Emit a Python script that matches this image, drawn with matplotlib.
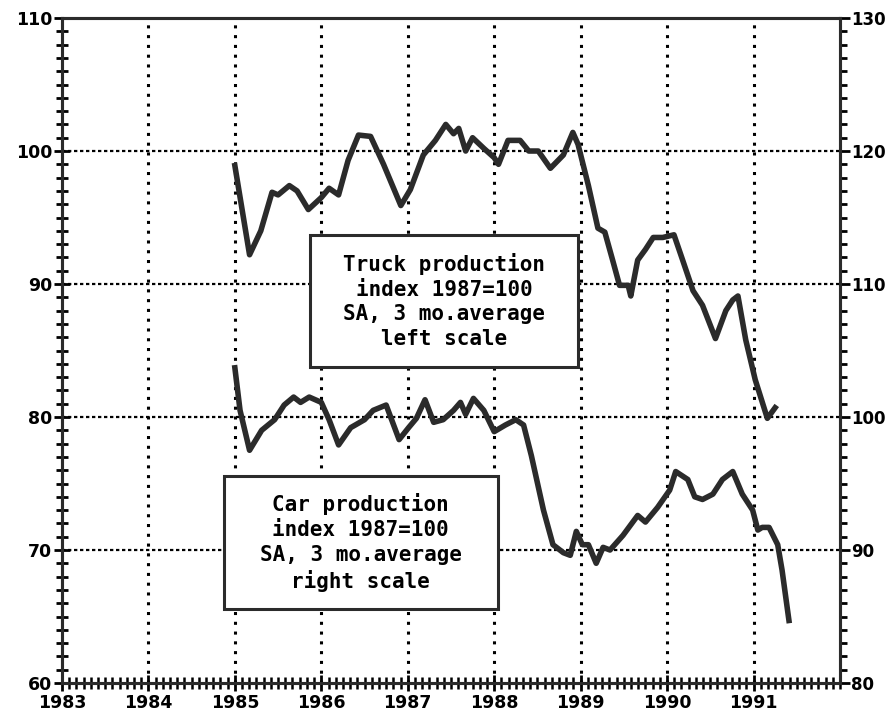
import numpy as np
import matplotlib
matplotlib.use("Agg")
import matplotlib.pyplot as plt
from matplotlib.patches import Rectangle
from matplotlib.ticker import MultipleLocator

# truck production index, left scale
truck_t = [1985.0, 1985.17, 1985.3, 1985.43, 1985.5, 1985.63, 1985.72, 1985.85, 1986.0,
           1986.09, 1986.2, 1986.31, 1986.43, 1986.57, 1986.72, 1986.92, 1987.03, 1987.18,
           1987.32, 1987.44, 1987.53, 1987.59, 1987.67, 1987.75, 1987.88, 1988.0, 1988.05,
           1988.16, 1988.3, 1988.4, 1988.51, 1988.65, 1988.8, 1988.91, 1988.97, 1989.09,
           1989.2, 1989.28, 1989.37, 1989.45, 1989.55, 1989.58, 1989.66, 1989.75, 1989.84,
           1989.95, 1990.08, 1990.18, 1990.3, 1990.41, 1990.56, 1990.68, 1990.76, 1990.82,
           1990.91, 1991.02, 1991.16, 1991.25]
truck_v = [98.9, 92.2, 94.0, 96.9, 96.7, 97.4, 97.0, 95.6, 96.5,
           97.2, 96.7, 99.3, 101.2, 101.1, 99.0, 95.9, 97.1, 99.7,
           100.8, 102.0, 101.3, 101.7, 100.0, 101.0, 100.2, 99.5, 99.0,
           100.8, 100.8, 100.0, 100.0, 98.7, 99.7, 101.4, 100.5, 97.4,
           94.2, 93.9, 91.8, 89.9, 89.9, 89.1, 91.8, 92.6, 93.5,
           93.5, 93.7, 91.8, 89.5, 88.4, 85.9, 88.0, 88.8, 89.1,
           85.8, 82.8, 79.9, 80.7]

# car production index, right scale
car_t = [1985.0, 1985.06, 1985.17, 1985.31, 1985.46, 1985.57, 1985.68, 1985.76, 1985.86,
         1986.0, 1986.09, 1986.2, 1986.34, 1986.5, 1986.6, 1986.75, 1986.9, 1987.01,
         1987.1, 1987.2, 1987.3, 1987.41, 1987.53, 1987.61, 1987.67, 1987.76, 1987.88,
         1988.0, 1988.13, 1988.25, 1988.34, 1988.43, 1988.57, 1988.68, 1988.8, 1988.88,
         1988.95, 1989.02, 1989.09, 1989.18, 1989.26, 1989.34, 1989.49, 1989.66, 1989.75,
         1989.89, 1990.03, 1990.1, 1990.24, 1990.32, 1990.41, 1990.53, 1990.64, 1990.76,
         1990.87, 1990.99, 1991.05, 1991.1, 1991.18, 1991.28, 1991.33, 1991.41]
car_v = [103.7, 100.5, 97.5, 99.0, 99.8, 100.9, 101.5, 101.1, 101.5,
         101.1, 99.8, 97.9, 99.2, 99.8, 100.5, 100.9, 98.3, 99.2,
         99.9, 101.3, 99.6, 99.8, 100.5, 101.1, 100.2, 101.4, 100.5,
         98.9, 99.4, 99.8, 99.4, 97.1, 93.0, 90.4, 89.8, 89.6,
         91.4, 90.4, 90.4, 89.0, 90.2, 90.0, 91.1, 92.6, 92.1,
         93.2, 94.5, 95.9, 95.3, 94.0, 93.8, 94.2, 95.3, 95.9,
         94.2, 93.0, 91.5, 91.7, 91.7, 90.4, 88.5, 84.7]

years = list(range(1983, 1992))
left_ticks = [60, 70, 80, 90, 100, 110]
right_ticks = [80, 90, 100, 110, 120, 130]

truck_label = "Truck production\nindex 1987=100\nSA, 3 mo.average\nleft scale"
car_label = "Car production\nindex 1987=100\nSA, 3 mo.average\nright scale"

ink = "#2b2b2b"

fig = plt.figure(figsize=(8.93, 7.21), dpi=100)
ax = fig.add_axes([0.0694, 0.0527, 0.8712, 0.9223])
ax2 = ax.twinx()

ax.set_xlim(1983, 1992)
ax.set_ylim(60, 110)
ax2.set_ylim(80, 130)

# grid
for yr in years[1:]:
    ax.axvline(yr, color="black", lw=2.2, ls=(0, (1, 2.2)), zorder=1)
for v in [70, 80, 90, 100]:
    ax.axhline(v, color="black", lw=1.6, ls=(0, (1.5, 1.2)), zorder=1)

ax.plot(truck_t, truck_v, color=ink, lw=4, solid_joinstyle="round", zorder=3)
ax2.plot(car_t, car_v, color=ink, lw=4, solid_joinstyle="round", zorder=3)

for a in (ax, ax2):
    for s in a.spines.values():
        s.set_linewidth(2.2)
        s.set_color(ink)

ax.set_xticks(years)
ax.set_xticklabels([str(y) for y in years], fontsize=12.5, fontweight="bold")
ax.xaxis.set_minor_locator(MultipleLocator(1 / 12))
ax.tick_params(axis="x", which="major", direction="inout", length=12, width=2, pad=2)
ax.tick_params(axis="x", which="minor", direction="inout", length=9, width=1.8)

ax.set_yticks(left_ticks)
ax.set_yticklabels([str(v) for v in left_ticks], fontsize=12.5, fontweight="bold")
ax.yaxis.set_minor_locator(MultipleLocator(1))
ax.tick_params(axis="y", which="major", direction="inout", length=12, width=2, pad=1)
ax.tick_params(axis="y", which="minor", direction="inout", length=8, width=2)

ax2.set_yticks(right_ticks)
ax2.set_yticklabels([str(v) for v in right_ticks], fontsize=12, fontweight="bold")
ax2.yaxis.set_minor_locator(MultipleLocator(1))
ax2.tick_params(axis="y", which="major", direction="out", length=7, width=2, pad=1)
ax2.tick_params(axis="y", which="minor", direction="out", length=5, width=2)

# label boxes (axes fraction)
for (x0, y0, x1, y1), label in [((0.319, 0.475, 0.663, 0.674), truck_label),
                                ((0.208, 0.111, 0.560, 0.311), car_label)]:
    ax2.add_patch(Rectangle((x0, y0), x1 - x0, y1 - y0, transform=ax2.transAxes,
                            facecolor="white", edgecolor=ink, lw=2.2, zorder=4))
    ax2.text((x0 + x1) / 2, (y0 + y1) / 2, label, transform=ax2.transAxes,
             ha="center", va="center", fontsize=15, fontweight="bold",
             family="DejaVu Sans Mono", linespacing=1.3, zorder=5)

fig.savefig("out.png", dpi=100)
